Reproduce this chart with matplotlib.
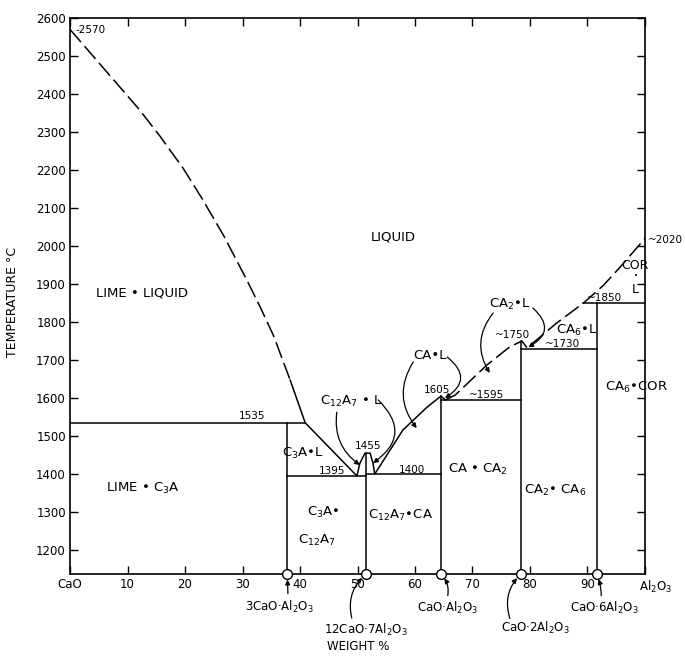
import matplotlib
matplotlib.use("Agg")
import matplotlib.pyplot as plt

# compounds on the CaO-Al2O3 join (wt% Al2O3) and their melting tops
compound_names = ["3CaO·Al$_2$O$_3$", "12CaO·7Al$_2$O$_3$", "CaO·Al$_2$O$_3$",
                  "CaO·2Al$_2$O$_3$", "CaO·6Al$_2$O$_3$"]
compound_x = [37.8, 51.5, 64.5, 78.4, 91.6]
compound_top = [1535, 1455, 1605, 1750, 1850]

# liquidus, lime side (dashed)
liq_lime_x = [0, 4, 8, 12, 15.6, 19.7, 23, 26.7, 30.7, 33, 35.4, 38.3]
liq_lime_t = [2570, 2500, 2430, 2360, 2290, 2204, 2124, 2028, 1912, 1842, 1764, 1647]
# liquidus, middle (solid)
liq_mid_x = [38.3, 40.9, 49.9, 50.4, 51.3, 52.2, 52.7, 53.0, 57.9, 62.1, 64.5, 65.3]
liq_mid_t = [1647, 1535, 1395, 1428, 1455, 1455, 1428, 1400, 1516, 1576, 1605, 1595]
# liquidus, alumina side (dashed)
liq_al_x = [65.3, 67.0, 72.5, 76.5, 78.6, 79.5, 84.6, 89.3, 92.8, 95.7, 100]
liq_al_t = [1595, 1608, 1687, 1735, 1750, 1732, 1797, 1850, 1897, 1945, 2020]

# invariant (horizontal) lines
iso_t = [1535, 1395, 1400, 1595, 1730, 1850]
iso_x0 = [0, 37.8, 51.5, 64.5, 78.4, 89.3]
iso_x1 = [40.9, 51.5, 64.5, 78.4, 91.6, 100]

x_ticks = [0, 10, 20, 30, 40, 50, 60, 70, 80, 90, 100]
x_labels = ["CaO", "10", "20", "30", "40", "50", "60", "70", "80", "90", ""]
y_ticks = list(range(1200, 2601, 100))

T_MIN = 1137

fig = plt.figure(figsize=(6.85, 6.57), dpi=100)
ax = fig.add_axes([0.1022, 0.1263, 0.8394, 0.8463])
ax.set_xlim(0, 100)
ax.set_ylim(T_MIN, 2600)

lw = 1.1
ax.plot(liq_lime_x, liq_lime_t, color="k", lw=lw, linestyle=(0, (11, 3.5)))
ax.plot(liq_mid_x, liq_mid_t, color="k", lw=lw)
ax.plot(liq_al_x, liq_al_t, color="k", lw=lw, linestyle=(0, (11, 3.5)))

for t, a, b in zip(iso_t, iso_x0, iso_x1):
    ax.plot([a, b], [t, t], color="k", lw=lw)
for cx, top in zip(compound_x, compound_top):
    ax.plot([cx, cx], [T_MIN, top], color="k", lw=lw)

# compound markers on the axis
ax.plot(compound_x, [T_MIN] * len(compound_x), "o", ms=7, mfc="white", mec="k",
        mew=1.0, clip_on=False, zorder=6)

ax.set_xticks(x_ticks)
ax.set_xticklabels(x_labels)
ax.set_yticks(y_ticks)
ax.tick_params(direction="in", top=True, right=True, length=6, width=1,
               labelsize=8.5, pad=3)
for s in ax.spines.values():
    s.set_linewidth(1.2)
ax.text(101.8, T_MIN - 14, "Al$_2$O$_3$", fontsize=8.5, ha="center", va="top",
        clip_on=False)

ax.set_ylabel("TEMPERATURE °C", fontsize=9)
ax.yaxis.set_label_coords(-0.088, 0.49)
ax.text(50.1, 945, "WEIGHT %", fontsize=8.5, ha="center", va="center", clip_on=False)

# compound labels with arrows to the markers
label_pos = [(36.5, 1050), (51.5, 990), (65.6, 1047), (80.9, 995), (93.0, 1047)]
arrow_start = [(37.9, 1085), (49.0, 1021), (65.7, 1080), (76.5, 1020), (92.4, 1080)]
arrow_rad = [0.0, -0.3, 0.25, -0.3, 0.1]
for name, cx, (lx, ly), (sx, sy), r in zip(compound_names, compound_x, label_pos,
                                          arrow_start, arrow_rad):
    ax.text(lx, ly, name, fontsize=8.5, ha="center", va="center", clip_on=False)
    ax.annotate("", xy=(cx, T_MIN), xytext=(sx, sy), annotation_clip=False,
                arrowprops=dict(arrowstyle="-|>", color="k", lw=0.9,
                                mutation_scale=7, shrinkA=0, shrinkB=4,
                                connectionstyle=f"arc3,rad={r}"))

# field labels
fs = 9.5
ax.text(56.2, 2024, "LIQUID", fontsize=fs, ha="center", va="center")
ax.text(12.5, 1876, "LIME • LIQUID", fontsize=fs, ha="center", va="center")
ax.text(12.7, 1363, "LIME • C$_3$A", fontsize=fs, ha="center", va="center")
ax.text(40.5, 1455, "C$_3$A•L", fontsize=fs, ha="center", va="center")
ax.text(44.0, 1300, "C$_3$A•", fontsize=fs, ha="center", va="center")
ax.text(43.0, 1226, "C$_{12}$A$_7$", fontsize=fs, ha="center", va="center")
ax.text(57.4, 1292, "C$_{12}$A$_7$•CA", fontsize=fs, ha="center", va="center")
ax.text(71.0, 1411, "CA • CA$_2$", fontsize=fs, ha="center", va="center")
ax.text(84.3, 1358, "CA$_2$• CA$_6$", fontsize=fs, ha="center", va="center")
ax.text(98.6, 1629, "CA$_6$•COR", fontsize=fs, ha="center", va="center", clip_on=False)
ax.text(98.3, 1950, "COR", fontsize=9, ha="center", va="center")
ax.text(98.4, 1921, "•", fontsize=5, ha="center", va="center")
ax.text(98.3, 1885, "L", fontsize=9, ha="center", va="center")
ax.text(88.2, 1779, "CA$_6$•L", fontsize=fs, ha="center", va="center")

# field labels with pointer arrows
def pointer(x0, y0, x1, y1, rad):
    ax.annotate("", xy=(x1, y1), xytext=(x0, y0),
                arrowprops=dict(arrowstyle="-|>", color="k", lw=0.9, mutation_scale=7,
                                shrinkA=0, shrinkB=0,
                                connectionstyle=f"arc3,rad={rad}"))

ax.text(48.9, 1590, "C$_{12}$A$_7$ • L", fontsize=fs, ha="center", va="center")
pointer(46.4, 1563, 50.4, 1424, 0.3)
pointer(53.6, 1595, 52.7, 1429, -0.6)
ax.text(62.6, 1713, "CA•L", fontsize=fs, ha="center", va="center")
pointer(59.7, 1695, 60.3, 1521, 0.35)
pointer(65.6, 1708, 65.2, 1600, -0.7)
ax.text(76.5, 1845, "CA$_2$•L", fontsize=fs, ha="center", va="center")
pointer(73.6, 1824, 73.0, 1666, 0.35)
pointer(80.5, 1837, 79.7, 1734, -0.7)

# temperature values
vs = 7.5
ax.text(1.0, 2568, "-2570", fontsize=vs, ha="left", va="center")
ax.text(31.7, 1553, "1535", fontsize=vs, ha="center", va="center")
ax.text(45.6, 1408, "1395", fontsize=vs, ha="center", va="center")
ax.text(51.8, 1473, "1455", fontsize=vs, ha="center", va="center")
ax.text(59.5, 1412, "1400", fontsize=vs, ha="center", va="center")
ax.text(63.8, 1621, "1605", fontsize=vs, ha="center", va="center")
ax.text(72.5, 1608, "~1595", fontsize=vs, ha="center", va="center")
ax.text(77.0, 1766, "~1750", fontsize=vs, ha="center", va="center")
ax.text(85.6, 1741, "~1730", fontsize=vs, ha="center", va="center")
ax.text(93.0, 1862, "~1850", fontsize=vs, ha="center", va="center")
ax.text(100.5, 2016, "~2020", fontsize=vs, ha="left", va="center", clip_on=False)

fig.savefig("out.png", dpi=100)
